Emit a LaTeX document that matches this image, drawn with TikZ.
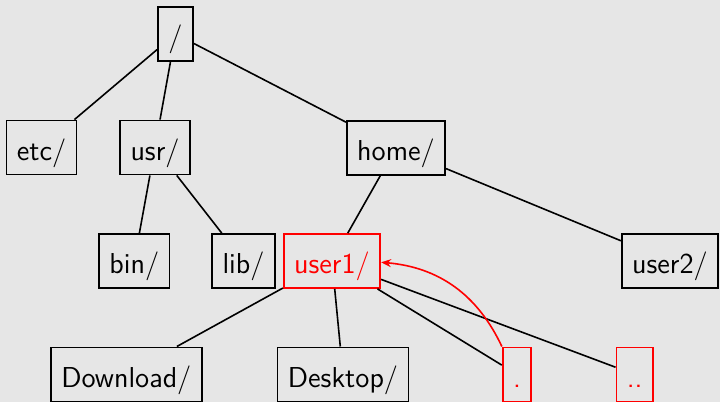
\documentclass[tikz,border=0pt]{standalone}
\usetikzlibrary{arrows.meta}
\definecolor{bg}{RGB}{230,230,230}
\begin{document}
\begin{tikzpicture}[x=1pt,y=1pt,
  dirbox/.style={draw,line width=0.9pt,font=\sffamily\Large,text height=15pt,text depth=2.4pt,inner xsep=5.2pt,inner ysep=4.8pt},
  hl/.style={dirbox,draw=red,text=red},
  link/.style={line width=0.8pt}]
\fill[bg] (0,0) rectangle (360,-201);
\useasboundingbox (0,0) rectangle (360,-201);
\clip (0,0) rectangle (360,-201);
\node[dirbox] (root) at (87.75,-17) {/};
\node[dirbox] (etc) at (20.75,-73.75) {etc/};
\node[dirbox] (usr) at (77.5,-73.75) {usr/};
\node[dirbox] (home) at (198,-74) {home/};
\node[dirbox] (bin) at (67.15,-130.5) {bin/};
\node[dirbox] (lib) at (121.75,-130.5) {lib/};
\node[hl] (user1) at (166,-130.5) {user1/};
\node[dirbox] (user2) at (335,-130.5) {user2/};
\node[dirbox] (download) at (63.15,-187.2) {Download/};
\node[dirbox] (desktop) at (171.5,-187.2) {Desktop/};
\node[hl] (dot) at (258.5,-187.2) {.};
\node[hl] (dotdot) at (317.35,-187.2) {..};
\draw[link] (root) -- (etc);
\draw[link] (root) -- (usr);
\draw[link] (root) -- (home);
\draw[link] (usr) -- (bin);
\draw[link] (usr) -- (lib);
\draw[link] (home) -- (user1);
\draw[link] (home) -- (user2);
\draw[link] (user1) -- (download);
\draw[link] (user1) -- (desktop);
\draw[link] (user1) -- (dot);
\draw[link] (user1) -- (dotdot);
\draw[link,red,-{Stealth[length=5pt,width=4pt]}] (dot) to[bend right] (user1);
\end{tikzpicture}
\end{document}
